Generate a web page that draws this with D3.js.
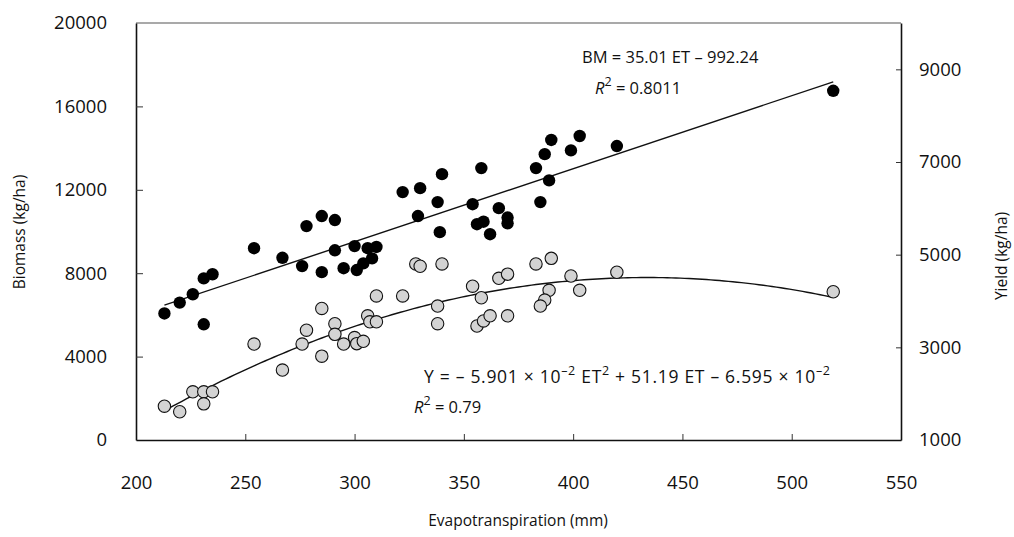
<!DOCTYPE html>
<html lang="en">
<head>
    <meta charset="UTF-8">
    <title>Biomass and yield vs evapotranspiration</title>
    <script src="https://d3js.org/d3.v7.min.js"></script>
    <style>
        body { margin: 0; background: #fff; }
        svg text { font-family: "Open Sans", sans-serif; fill: #111; }
    </style>
</head>
<body>
    <script>
        // biomass points (filled black)
        const etBiomass = [213, 220, 226, 231, 235, 231, 254, 267, 278, 285, 291, 276, 285, 291, 295, 300, 301, 304, 306, 310, 308,
            322, 330, 340, 338, 329, 339, 358, 354, 366, 370, 370, 356, 359, 362, 383, 387, 390, 403, 399, 389, 385, 420, 519];
        const biomass = [6070, 6590, 6990, 7750, 7950, 5550, 9200, 8740, 10260, 10740, 10550, 8340, 8050, 9100, 8240, 9300, 8150, 8470, 9200, 9260, 8710,
            11890, 12080, 12750, 11410, 10740, 9970, 13040, 11310, 11120, 10670, 10390, 10350, 10470, 9870, 13040, 13710, 14390, 14580, 13890, 12450, 11410, 14100, 16750];

        // yield points (grey)
        const etYield = [213, 220, 226, 231, 235, 231, 254, 267, 276, 278, 285, 285, 291, 291, 295, 300, 301, 304, 306, 307, 310, 310, 322,
            328, 330, 340, 338, 338, 354, 358, 356, 359, 362, 370, 366, 370, 383, 390, 389, 387, 385, 399, 403, 420, 519];
        const yieldVals = [1730, 1610, 2040, 2040, 2040, 1780, 3070, 2510, 3070, 3370, 3840, 2810, 3510, 3280, 3070, 3210, 3080, 3130, 3680, 3550, 3550, 4110, 4110,
            4800, 4750, 4800, 3890, 3510, 4320, 4070, 3460, 3570, 3680, 3680, 4490, 4580, 4800, 4920, 4230, 4020, 3890, 4540, 4230, 4620, 4200];

        // fitted equations
        const bmCoef = [35.01, -992.24];            // BM = a ET + b
        const yCoef = [-0.05901, 51.19, -6595];     // Y = a ET^2 + b ET + c
        const fitRange = [213, 519];

        const xTicks = [200, 250, 300, 350, 400, 450, 500, 550];
        const leftTicks = [0, 4000, 8000, 12000, 16000, 20000];
        const rightTicks = [1000, 3000, 5000, 7000, 9000];

        const W = 1014, H = 537;
        const m = {left: 136, right: 113, top: 23, bottom: 97};

        const svg = d3.select("body").append("svg")
            .attr("width", W).attr("height", H);

        const x = d3.scaleLinear().domain([200, 550]).range([m.left, W - m.right]);
        const yL = d3.scaleLinear().domain([0, 20000]).range([H - m.bottom, m.top]);
        const yR = d3.scaleLinear().domain([1000, 10000]).range([H - m.bottom, m.top]);

        // frame top line
        svg.append("line")
            .attr("x1", m.left).attr("x2", W - m.right)
            .attr("y1", m.top).attr("y2", m.top)
            .attr("stroke", "#555").attr("stroke-width", 1.2);

        const fmt = d3.format("d");
        const xAxis = svg.append("g")
            .attr("transform", `translate(0,${H - m.bottom})`)
            .call(d3.axisBottom(x).tickValues(xTicks).tickFormat(fmt).tickSizeInner(-6).tickSizeOuter(0).tickPadding(36));
        const lAxis = svg.append("g")
            .attr("transform", `translate(${m.left},0)`)
            .call(d3.axisLeft(yL).tickValues(leftTicks).tickFormat(fmt).tickSizeInner(-7).tickSizeOuter(0).tickPadding(29));
        const rAxis = svg.append("g")
            .attr("transform", `translate(${W - m.right},0)`)
            .call(d3.axisRight(yR).tickValues(rightTicks).tickFormat(fmt).tickSizeInner(-5).tickSizeOuter(0).tickPadding(18));

        [xAxis, lAxis, rAxis].forEach(g => {
            g.select(".domain").attr("stroke", "#111").attr("stroke-width", 1.6);
            g.selectAll(".tick line").attr("stroke", "#333").attr("stroke-width", 1);
            g.selectAll(".tick text").attr("font-size", 18.5).attr("fill", "#111")
                .style("font-family", "'Open Sans', sans-serif");
        });
        // no tick mark at the ends where the frame is
        xAxis.selectAll(".tick line").filter(d => d === 200 || d === 550).remove();
        lAxis.selectAll(".tick line").filter(d => d === 0 || d === 20000).remove();
        rAxis.selectAll(".tick line").filter(d => d === 1000).remove();

        // axis titles
        svg.append("text")
            .attr("x", 518).attr("y", 526)
            .attr("text-anchor", "middle").attr("font-size", 15.5)
            .text("Evapotranspiration (mm)");
        svg.append("text")
            .attr("transform", "translate(25,232) rotate(-90)")
            .attr("text-anchor", "middle").attr("font-size", 15.5)
            .text("Biomass (kg/ha)");
        svg.append("text")
            .attr("transform", "translate(1007,256) rotate(-90)")
            .attr("text-anchor", "middle").attr("font-size", 15.5)
            .text("Yield (kg/ha)");

        // fitted lines
        const bmLine = d3.line().x(d => x(d)).y(d => yL(bmCoef[0] * d + bmCoef[1]));
        svg.append("path")
            .attr("d", bmLine(fitRange))
            .attr("fill", "none").attr("stroke", "#111").attr("stroke-width", 1.4);

        const curveEt = d3.range(fitRange[0], fitRange[1] + 1, 2);
        const yLine = d3.line().x(d => x(d)).y(d => yR(yCoef[0] * d * d + yCoef[1] * d + yCoef[2]));
        svg.append("path")
            .attr("d", yLine(curveEt))
            .attr("fill", "none").attr("stroke", "#111").attr("stroke-width", 1.4);

        // points
        svg.append("g").selectAll("circle")
            .data(etYield.map((e, i) => [e, yieldVals[i]]))
            .join("circle")
            .attr("cx", d => x(d[0])).attr("cy", d => yR(d[1])).attr("r", 6.2)
            .attr("fill", "#d3d3d3").attr("stroke", "#111").attr("stroke-width", 1.1);

        svg.append("g").selectAll("circle")
            .data(etBiomass.map((e, i) => [e, biomass[i]]))
            .join("circle")
            .attr("cx", d => x(d[0])).attr("cy", d => yL(d[1])).attr("r", 6.2)
            .attr("fill", "#000");

        // equations
        function eq(xp, yp, parts, size) {
            const t = svg.append("text").attr("x", xp).attr("y", yp).attr("font-size", size || 16.5);
            parts.forEach(p => {
                if (typeof p === "string") { t.append("tspan").text(p); return; }
                const s = t.append("tspan").text(p.t);
                if (p.i) s.attr("font-style", "italic");
                if (p.sup) s.attr("font-size", 12.5).attr("baseline-shift", "super");
            });
            return t;
        }
        eq(582, 63, ["BM = 35.01 ET \u2013 992.24"]);
        eq(595, 94, [{t: "R", i: true}, {t: "2", sup: true}, " = 0.8011"]);
        eq(424, 383, ["Y = \u2013 5.901 \u00d7 10", {t: "\u20132", sup: true}, " ET", {t: "2", sup: true},
            " + 51.19 ET \u2013 6.595 \u00d7 10", {t: "\u20132", sup: true}], 17.5)
            .attr("textLength", 406).attr("lengthAdjust", "spacing");
        eq(414, 413, [{t: "R", i: true}, {t: "2", sup: true}, " = 0.79"]);
    </script>
</body>
</html>
